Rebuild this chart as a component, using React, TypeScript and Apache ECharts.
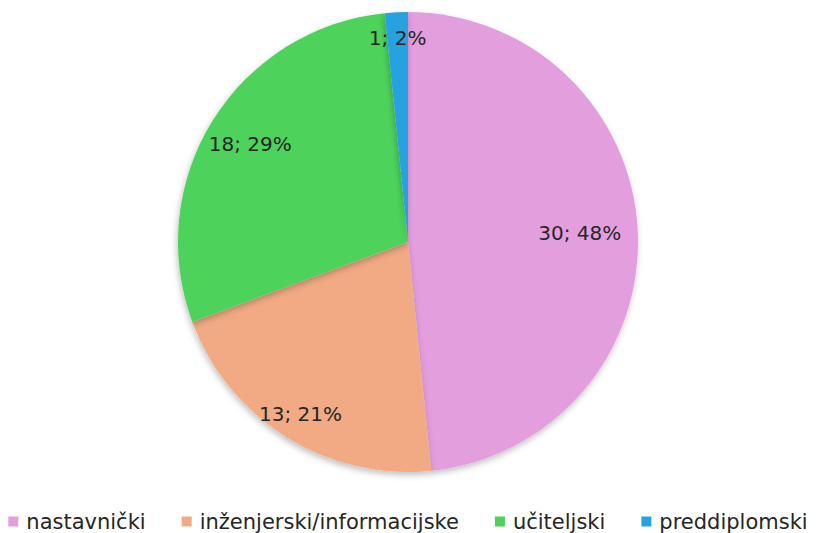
import React, { useEffect, useRef } from "react";
import * as echarts from "echarts";

const categories = ["nastavnički", "inženjerski/informacijske", "učiteljski", "preddiplomski"];
const values = [30, 13, 18, 1];
const percentLabels = ["48%", "21%", "29%", "2%"];
const colors = ["#E39EDD", "#F1AA84", "#4DD35B", "#25A2E0"];
// label radial distance as fraction of radius (Excel best-fit placement)
const labelRadial = [0.735, 0.87, 0.795, 0.875];

const R = 230;
const CENTER = ["50%", 242];

export default function App() {
  const ref = useRef<HTMLDivElement>(null);
  useEffect(() => {
    if (!ref.current) return;
    const chart = echarts.init(ref.current, null, { renderer: "svg" });
    const data = categories.map((c, i) => ({ name: c, value: values[i] }));
    const fontFamily = "'DejaVu Sans', sans-serif";

    const labelSeries = categories.map((_, k) => {
      const r0 = 2 * labelRadial[k] * R - R;
      return {
        type: "pie",
        radius: [r0, R],
        center: CENTER,
        startAngle: 90,
        clockwise: true,
        silent: true,
        legendHoverLink: false,
        z: 5,
        itemStyle: { color: "transparent", borderWidth: 0 },
        emphasis: { disabled: true },
        labelLine: { show: false },
        label: {
          show: true,
          position: "inside",
          color: "#262626",
          fontSize: 20,
          fontFamily,
          formatter: (p: any) => (p.dataIndex === k ? `${values[k]}; ${percentLabels[k]}` : ""),
        },
        data: categories.map((c, i) => ({ name: c, value: values[i] })),
        tooltip: { show: false },
      } as any;
    });

    chart.setOption({
      animation: false,
      color: colors,
      legend: {
        top: 506,
        left: "center",
        icon: "rect",
        itemWidth: 10,
        itemHeight: 10,
        itemGap: 36,
        data: categories,
        textStyle: { fontSize: 21, color: "#262626", fontFamily, padding: [0, 0, 0, 3] },
      },
      series: [
        {
          type: "pie",
          name: "main",
          radius: R,
          center: CENTER,
          startAngle: 90,
          clockwise: true,
          label: { show: false },
          labelLine: { show: false },
          itemStyle: {
            borderWidth: 0,
            shadowBlur: 6,
            shadowOffsetY: 3,
            shadowOffsetX: -1,
            shadowColor: "rgba(0,0,0,0.25)",
          },
          emphasis: { disabled: true },
          data,
        },
        ...labelSeries,
      ],
    });
    return () => chart.dispose();
  }, []);
  return <div ref={ref} style={{ width: 816, height: 533, position: "absolute", left: 0, top: 0 }} />;
}
